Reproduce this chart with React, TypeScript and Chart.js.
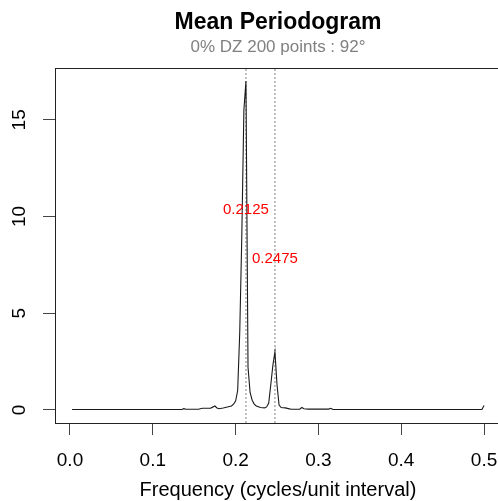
import React, { useEffect, useRef } from "react";
import { Chart, registerables } from "chart.js";

Chart.register(...registerables);

// ---- data ----
const freq = [
  0.0025, 0.05, 0.1, 0.135, 0.1375, 0.14, 0.155, 0.16, 0.17, 0.175,
  0.1775, 0.18, 0.185, 0.19, 0.195, 0.1975, 0.2, 0.2025, 0.205, 0.2075,
  0.21, 0.2125, 0.215, 0.2175, 0.22, 0.2225, 0.225, 0.23, 0.235, 0.2375,
  0.24, 0.2425, 0.245, 0.2475, 0.25, 0.2525, 0.255, 0.26, 0.265, 0.2675,
  0.2775, 0.28, 0.2825, 0.2875, 0.3125, 0.315, 0.3175, 0.35, 0.4, 0.45,
  0.4975, 0.5,
];
const power = [
  0.02, 0.02, 0.02, 0.02, 0.06, 0.03, 0.03, 0.08, 0.09, 0.2,
  0.1, 0.06, 0.1, 0.15, 0.2, 0.3, 0.45, 1.0, 4.0, 9.0,
  15.5, 17.0, 2.2, 0.9, 0.5, 0.3, 0.2, 0.12, 0.1, 0.15,
  0.35, 1.3, 2.3, 3.0, 1.3, 0.25, 0.12, 0.1, 0.05, 0.03,
  0.03, 0.12, 0.06, 0.04, 0.04, 0.08, 0.02, 0.02, 0.02, 0.02,
  0.02, 0.22,
];
const peakFreqs = [0.2125, 0.2475];
const peakLabels = ["0.2125", "0.2475"];
const peakLabelY = [10.35, 7.8];
const xTicks = [0, 0.1, 0.2, 0.3, 0.4, 0.5];
const yTicks = [0, 5, 10, 15];
const X_MIN = -0.0181;
const X_MAX = 0.5205;
const Y_MIN = -0.68;
const Y_MAX = 17.68;
const titleText = "Mean Periodogram";
const subtitleText = "0% DZ 200 points : 92°";
const xTitleText = "Frequency (cycles/unit interval)";

const FONT = "'Liberation Sans', Arial, sans-serif";

const overlayPlugin = {
  id: "overlay",
  afterDraw(chart: any) {
    const { ctx, chartArea: a, scales } = chart;
    const xs = scales.x;
    const ys = scales.y;
    ctx.save();
    // plot box
    ctx.strokeStyle = "#222";
    ctx.lineWidth = 1;
    ctx.strokeRect(
      Math.round(a.left) + 0.5,
      Math.round(a.top) + 0.5,
      Math.round(a.right - a.left),
      Math.round(a.bottom - a.top)
    );
    // rotated y tick labels
    ctx.fillStyle = "#000";
    ctx.font = `19px ${FONT}`;
    ctx.textAlign = "center";
    ctx.textBaseline = "alphabetic";
    for (const t of ys.ticks) {
      const y = ys.getPixelForValue(t.value);
      ctx.save();
      ctx.translate(25, y);
      ctx.rotate(-Math.PI / 2);
      ctx.fillText(String(t.value), 0, 0);
      ctx.restore();
    }
    // red peak labels
    ctx.fillStyle = "#ff0000";
    ctx.font = `15px ${FONT}`;
    ctx.textBaseline = "middle";
    peakFreqs.forEach((f, i) => {
      ctx.fillText(peakLabels[i], xs.getPixelForValue(f), ys.getPixelForValue(peakLabelY[i]));
    });
    ctx.restore();
  },
};

export default function App() {
  const ref = useRef<HTMLCanvasElement | null>(null);
  useEffect(() => {
    if (!ref.current) return;
    const datasets: any[] = [
      {
        data: freq.map((f, i) => ({ x: f, y: power[i] })),
        borderColor: "#1a1a1a",
        borderWidth: 1.1,
        pointRadius: 0,
        tension: 0,
        fill: false,
      },
      ...peakFreqs.map((f) => ({
        data: [
          { x: f, y: Y_MIN },
          { x: f, y: Y_MAX },
        ],
        borderColor: "#808080",
        borderWidth: 1,
        borderDash: [2, 2],
        pointRadius: 0,
        fill: false,
      })),
    ];
    const chart = new Chart(ref.current, {
      type: "line",
      data: { datasets },
      plugins: [overlayPlugin],
      options: {
        responsive: false,
        animation: false,
        devicePixelRatio: 1,
        events: [],
        layout: { padding: { left: 8, right: 0, top: 0, bottom: 0 } },
        plugins: {
          legend: { display: false },
          tooltip: { enabled: false },
          title: {
            display: true,
            text: titleText,
            fullSize: false,
            color: "#000",
            font: { family: FONT, size: 23, weight: "bold", lineHeight: 1.2 },
            padding: { top: 9, bottom: 0 },
          },
          subtitle: {
            display: true,
            text: subtitleText,
            fullSize: false,
            color: "#808080",
            font: { family: FONT, size: 17, lineHeight: 1.2 },
            padding: { top: 1, bottom: 10 },
          },
        },
        scales: {
          x: {
            type: "linear",
            min: X_MIN,
            max: X_MAX,
            afterBuildTicks: (s: any) => {
              s.ticks = xTicks.map((v) => ({ value: v }));
            },
            afterFit: (s: any) => {
              s.height = 78;
              s.paddingLeft = 0;
              s.paddingRight = 0;
            },
            grid: { drawOnChartArea: false, drawTicks: true, tickLength: 12, color: "#444", lineWidth: 1 },
            border: { display: false },
            ticks: {
              font: { family: FONT, size: 19 },
              color: "#000",
              padding: 14,
              maxRotation: 0,
              autoSkip: false,
              callback: (v: any) => Number(v).toFixed(1),
            },
            title: {
              display: true,
              text: xTitleText,
              color: "#000",
              font: { family: FONT, size: 20, lineHeight: 1.1 },
              padding: { top: 0, bottom: 0 },
            },
          },
          y: {
            type: "linear",
            min: Y_MIN,
            max: Y_MAX,
            afterBuildTicks: (s: any) => {
              s.ticks = yTicks.map((v) => ({ value: v }));
            },
            afterFit: (s: any) => {
              s.width = 47;
              s.paddingTop = 0;
              s.paddingBottom = 0;
            },
            grid: { drawOnChartArea: false, drawTicks: true, tickLength: 12, color: "#444", lineWidth: 1 },
            border: { display: false },
            ticks: { color: "rgba(0,0,0,0)", font: { family: FONT, size: 19 } },
          },
        },
      },
    });
    return () => chart.destroy();
  }, []);
  return (
    <div
      style={{
        position: "fixed",
        left: 0,
        top: 0,
        width: 498,
        height: 501,
        overflow: "hidden",
        background: "#fff",
      }}
    >
      <canvas ref={ref} width={501} height={501} style={{ display: "block", width: 501, height: 501 }} />
    </div>
  );
}
